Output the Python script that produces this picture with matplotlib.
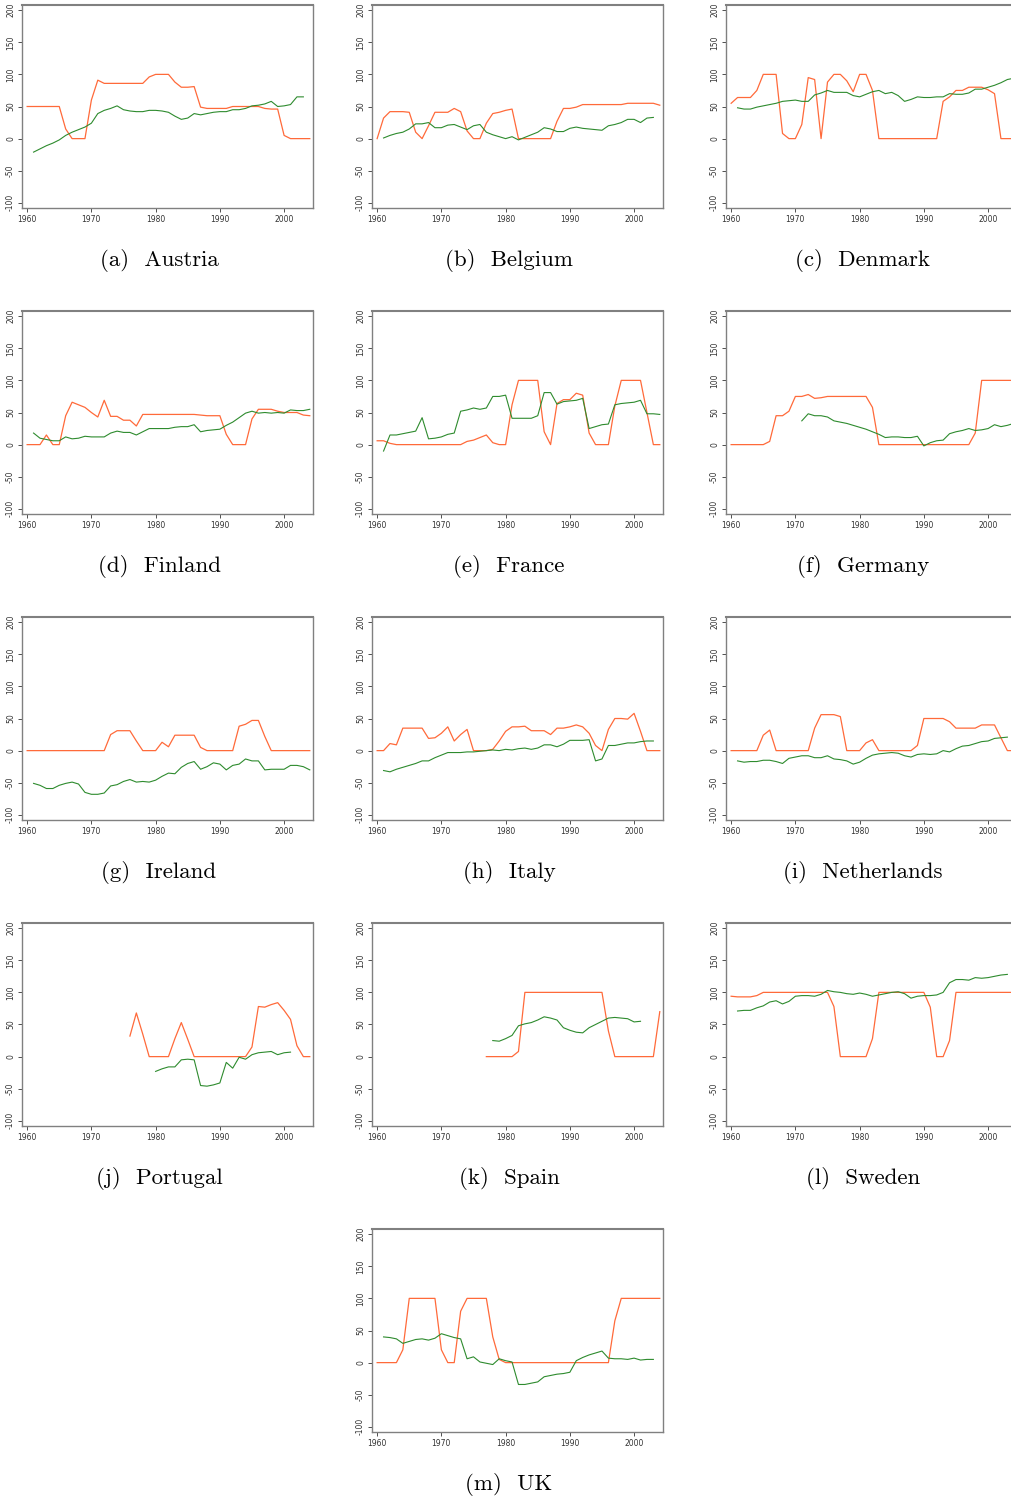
import numpy as np
import matplotlib
matplotlib.use("Agg")
import matplotlib.pyplot as plt

plt.rcParams['axes.unicode_minus'] = False

# first year of each series, then yearly values (orange line / green line)
austria_o0, austria_g0 = 1960, 1961
austria_o = [50, 50, 50, 50, 50, 50, 15, 0, 0, 0,
             60, 91, 86, 86, 86, 86, 86, 86, 86, 96,
             100, 100, 100, 88, 80, 80, 81, 49, 47, 47,
             47, 47, 50, 50, 50, 50, 50, 47, 46, 46,
             5, 0, 0, 0, 0]
austria_g = [-21, -16, -11, -7, -2, 5, 10, 14, 18,
             24, 39, 44, 47, 51, 45, 43, 42, 42, 44,
             44, 43, 41, 35, 30, 32, 39, 37, 39, 41,
             42, 42, 45, 45, 47, 51, 52, 54, 58, 50,
             51, 53, 65, 65]

belgium_o0, belgium_g0 = 1960, 1961
belgium_o = [0, 32, 42, 42, 42, 41, 10, 0, 20, 41,
             41, 41, 47, 42, 12, 0, 0, 24, 39, 41,
             44, 46, 0, 0, 0, 0, 0, 0, 27, 47,
             47, 49, 53, 53, 53, 53, 53, 53, 53, 55,
             55, 55, 55, 55, 52]
belgium_g = [1, 5, 8, 10, 15, 23, 23, 25, 17,
             17, 21, 22, 18, 14, 20, 22, 10, 6, 3,
             0, 3, -2, 2, 6, 10, 17, 15, 11, 11,
             16, 18, 16, 15, 14, 13, 20, 22, 25, 30,
             30, 25, 32, 33]

denmark_o0, denmark_g0 = 1960, 1961
denmark_o = [55, 64, 64, 64, 75, 100, 100, 100, 8, 0,
             0, 22, 95, 92, 0, 88, 100, 100, 90, 73,
             100, 100, 75, 0, 0, 0, 0, 0, 0, 0,
             0, 0, 0, 58, 65, 75, 75, 80, 80, 80,
             76, 70, 0, 0, 0]
denmark_g = [48, 46, 46, 49, 51, 53, 55, 58, 59,
             60, 58, 58, 68, 71, 75, 72, 72, 72, 67,
             65, 69, 73, 75, 70, 72, 67, 58, 61, 65,
             64, 64, 65, 65, 70, 69, 69, 71, 77, 77,
             80, 83, 87, 92, 94]

finland_o0, finland_g0 = 1960, 1961
finland_o = [0, 0, 0, 15, 0, 0, 45, 66, 62, 58,
             50, 43, 69, 44, 44, 38, 38, 29, 47, 47,
             47, 47, 47, 47, 47, 47, 47, 46, 45, 45,
             45, 16, 0, 0, 0, 40, 55, 55, 55, 52,
             50, 50, 50, 46, 45]
finland_g = [18, 10, 8, 6, 6, 12, 9, 10, 13,
             12, 12, 12, 18, 21, 19, 19, 15, 20, 25,
             25, 25, 25, 27, 28, 28, 31, 20, 22, 23,
             24, 30, 35, 42, 49, 52, 49, 50, 49, 50,
             49, 54, 53, 53, 55]

france_o0, france_g0 = 1960, 1961
france_o = [6, 6, 2, 0, 0, 0, 0, 0, 0, 0,
            0, 0, 0, 0, 5, 7, 11, 15, 3, 0,
            0, 62, 100, 100, 100, 100, 20, 0, 64, 70,
            70, 80, 77, 18, 0, 0, 0, 60, 100, 100,
            100, 100, 50, 0, 0]
france_g = [-10, 15, 15, 17, 19, 21, 42, 9, 10,
            12, 16, 18, 52, 54, 57, 55, 57, 75, 75,
            77, 41, 41, 41, 41, 45, 81, 81, 63, 67,
            68, 69, 72, 25, 28, 31, 32, 62, 64, 65,
            66, 69, 48, 48, 47]

germany_o0, germany_g0 = 1960, 1971
germany_o = [0, 0, 0, 0, 0, 0, 5, 45, 45, 52,
             75, 75, 78, 72, 73, 75, 75, 75, 75, 75,
             75, 75, 58, 0, 0, 0, 0, 0, 0, 0,
             0, 0, 0, 0, 0, 0, 0, 0, 18, 100,
             100, 100, 100, 100, 100]
germany_g = [37, 48, 45, 45, 43, 37, 35, 33, 30,
             27, 24, 20, 16, 11, 12, 12, 11, 11, 13,
             -2, 3, 6, 7, 17, 20, 22, 25, 22, 23,
             25, 31, 28, 30, 33]

ireland_o0, ireland_g0 = 1960, 1961
ireland_o = [0, 0, 0, 0, 0, 0, 0, 0, 0, 0,
             0, 0, 0, 25, 31, 31, 31, 15, 0, 0,
             0, 13, 6, 24, 24, 24, 24, 5, 0, 0,
             0, 0, 0, 38, 41, 47, 47, 22, 0, 0,
             0, 0, 0, 0, 0]
ireland_g = [-51, -54, -59, -59, -54, -51, -49, -52, -65,
             -68, -68, -66, -55, -53, -48, -45, -49, -48, -49,
             -46, -40, -35, -36, -26, -20, -17, -29, -25, -19,
             -21, -30, -23, -21, -13, -16, -16, -30, -29, -29,
             -29, -23, -23, -25, -30]

italy_o0, italy_g0 = 1960, 1961
italy_o = [0, 0, 11, 9, 35, 35, 35, 35, 19, 20,
           27, 37, 15, 25, 33, 0, 0, 0, 2, 15,
           30, 37, 37, 38, 31, 31, 31, 25, 35, 35,
           37, 40, 37, 27, 8, 0, 33, 50, 50, 49,
           58, 30, 0, 0, 0]
italy_g = [-31, -33, -29, -26, -23, -20, -16, -16, -11,
           -7, -3, -3, -3, -2, -2, -1, 0, 1, 0,
           2, 1, 3, 4, 2, 4, 9, 9, 6, 10,
           16, 16, 16, 17, -16, -13, 8, 8, 10, 12,
           12, 14, 15, 15]

netherlands_o0, netherlands_g0 = 1960, 1961
netherlands_o = [0, 0, 0, 0, 0, 24, 32, 0, 0, 0,
                 0, 0, 0, 35, 56, 56, 56, 53, 0, 0,
                 0, 12, 17, 0, 0, 0, 0, 0, 0, 8,
                 50, 50, 50, 50, 45, 35, 35, 35, 35, 40,
                 40, 40, 20, 0, 0]
netherlands_g = [-16, -18, -17, -17, -15, -15, -17, -20, -12,
                 -10, -8, -8, -11, -11, -8, -13, -14, -16, -21,
                 -18, -12, -7, -5, -4, -3, -4, -8, -10, -6,
                 -5, -6, -5, 0, -2, 3, 7, 8, 11, 14,
                 15, 19, 20, 21]

portugal_o0, portugal_g0 = 1976, 1980
portugal_o = [32, 68, 35, 0,
              0, 0, 0, 28, 53, 27, 0, 0, 0, 0,
              0, 0, 0, 0, 0, 15, 78, 77, 81, 84,
              72, 58, 17, 0, 0]
portugal_g = [-23, -19, -16, -16, -5, -4, -5, -45, -46, -44,
              -41, -9, -18, -1, -4, 3, 6, 7, 8, 3,
              6, 7]

spain_o0, spain_g0 = 1977, 1978
spain_o = [0, 0, 0,
           0, 0, 8, 100, 100, 100, 100, 100, 100, 100,
           100, 100, 100, 100, 100, 100, 40, 0, 0, 0,
           0, 0, 0, 0, 70]
spain_g = [25, 24,
           28, 33, 48, 51, 53, 57, 62, 60, 57, 45,
           41, 38, 37, 45, 50, 55, 60, 61, 60, 59,
           54, 55]

sweden_o0, sweden_g0 = 1960, 1961
sweden_o = [94, 93, 93, 93, 95, 100, 100, 100, 100, 100,
            100, 100, 100, 100, 100, 100, 78, 0, 0, 0,
            0, 0, 28, 100, 100, 100, 100, 100, 100, 100,
            100, 77, 0, 0, 25, 100, 100, 100, 100, 100,
            100, 100, 100, 100, 100]
sweden_g = [71, 72, 72, 76, 79, 85, 87, 82, 86,
            94, 95, 95, 94, 97, 103, 101, 100, 98, 97,
            99, 97, 94, 96, 98, 100, 101, 98, 91, 94,
            95, 95, 96, 100, 115, 120, 120, 119, 123, 122,
            123, 125, 127, 128]

uk_o0, uk_g0 = 1960, 1961
uk_o = [0, 0, 0, 0, 20, 100, 100, 100, 100, 100,
        20, 0, 0, 80, 100, 100, 100, 100, 40, 5,
        0, 0, 0, 0, 0, 0, 0, 0, 0, 0,
        0, 0, 0, 0, 0, 0, 0, 65, 100, 100,
        100, 100, 100, 100, 100]
uk_g = [40, 39, 37, 30, 33, 36, 37, 35, 38,
        45, 42, 39, 37, 6, 9, 1, -1, -3, 6,
        3, 1, -34, -34, -32, -30, -22, -20, -18, -17,
        -15, 3, 8, 12, 15, 18, 7, 6, 6, 5,
        7, 4, 5, 5]

labels = ['(a)  Austria', '(b)  Belgium', '(c)  Denmark', '(d)  Finland',
          '(e)  France', '(f)  Germany', '(g)  Ireland', '(h)  Italy',
          '(i)  Netherlands', '(j)  Portugal', '(k)  Spain', '(l)  Sweden',
          '(m)  UK']

panels = [
    (austria_o0, austria_o, austria_g0, austria_g),
    (belgium_o0, belgium_o, belgium_g0, belgium_g),
    (denmark_o0, denmark_o, denmark_g0, denmark_g),
    (finland_o0, finland_o, finland_g0, finland_g),
    (france_o0, france_o, france_g0, france_g),
    (germany_o0, germany_o, germany_g0, germany_g),
    (ireland_o0, ireland_o, ireland_g0, ireland_g),
    (italy_o0, italy_o, italy_g0, italy_g),
    (netherlands_o0, netherlands_o, netherlands_g0, netherlands_g),
    (portugal_o0, portugal_o, portugal_g0, portugal_g),
    (spain_o0, spain_o, spain_g0, spain_g),
    (sweden_o0, sweden_o, sweden_g0, sweden_g),
    (uk_o0, uk_o, uk_g0, uk_g),
]

W, H = 1012, 1501
fig = plt.figure(figsize=(W / 100, H / 100), dpi=100)

col_left = [22, 372, 726]
row_top = [5, 311, 617, 923, 1229]
ax_w, ax_h = 291, 203

for i, (o0, ov, g0, gv) in enumerate(panels):
    if i < 12:
        r, c = divmod(i, 3)
    else:
        r, c = 4, 1
    left = col_left[c]
    top = row_top[r]
    ax = fig.add_axes([left / W, 1 - (top + ax_h) / H, ax_w / W, ax_h / H])
    ax.plot(np.arange(o0, o0 + len(ov)), ov, color='#FF6A3A', lw=0.9)
    ax.plot(np.arange(g0, g0 + len(gv)), gv, color='#2E8B2E', lw=0.8)
    ax.set_xlim(1959.2, 2004.5)
    ax.set_ylim(-108, 208)
    ax.set_xticks([1960, 1970, 1980, 1990, 2000])
    ax.set_yticks([-100, -50, 0, 50, 100, 150, 200])
    ax.set_yticklabels(['-100', '-50', '0', '50', '100', '150', '200'],
                       rotation=90, va='center')
    ax.tick_params(labelsize=5.5, colors='#333333', length=3, width=0.6, pad=2)
    for sp in ax.spines.values():
        sp.set_color('#808080')
        sp.set_linewidth(1.0)
    ax.spines['top'].set_linewidth(1.5)
    cx = (left - 17 + left + ax_w) / 2
    fig.text(cx / W, 1 - (top + 256) / H, labels[i], ha='center', va='center',
             fontsize=16.5, family='cmr10')

fig.savefig('out.png', dpi=100)
